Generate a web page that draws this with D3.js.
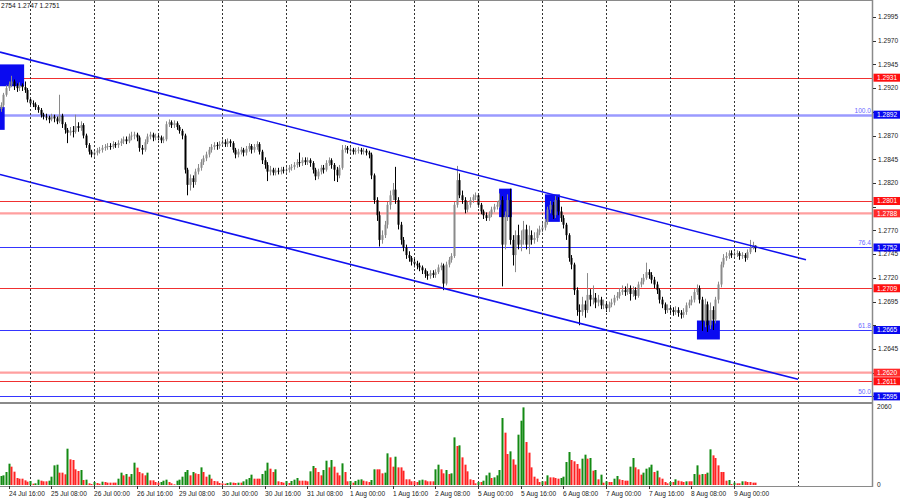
<!DOCTYPE html>
<html><head><meta charset="utf-8">
<script src="https://cdn.jsdelivr.net/npm/d3@7"></script>
<style>body{margin:0;background:#fff}svg{display:block}text{font-family:"Liberation Sans",Arial,sans-serif}</style>
</head><body><svg id="c" width="900" height="500"></svg>
<script>
// ---- DATA (H1 bars; bar index 0 = 25 Jul 00:00) ----
const firstBar = -11;
const opens = [
1.2898,1.2902,1.2913,1.2920,1.2924,1.2927,1.2922,1.2920,1.2923,1.2921,1.2918,
1.2908,1.2904,1.2903,1.2900,1.2897,1.2892,1.2890,1.2889,1.2887,1.2890,1.2888,1.2885,1.2891,1.2882,1.2876,1.2873,1.2875,1.2874,1.2880,1.2878,1.2881,1.2870,1.2860,1.2853,
1.2850,1.2852,1.2854,1.2855,1.2857,1.2858,1.2859,1.2858,1.2861,1.2860,1.2862,1.2864,1.2866,1.2864,1.2869,1.2870,1.2871,1.2868,1.2857,1.2855,1.2863,1.2869,1.2871,1.2868,
1.2869,1.2868,1.2865,1.2866,1.2882,1.2884,1.2881,1.2883,1.2879,1.2875,1.2870,1.2834,1.2818,1.2825,1.2821,1.2832,1.2836,1.2842,1.2846,1.2850,1.2855,1.2858,1.2860,1.2859,
1.2861,1.2863,1.2861,1.2864,1.2862,1.2855,1.2850,1.2853,1.2855,1.2852,1.2856,1.2859,1.2855,1.2858,1.2861,1.2853,1.2844,1.2839,1.2832,1.2834,1.2831,1.2833,1.2832,1.2834,
1.2833,1.2834,1.2836,1.2837,1.2839,1.2842,1.2841,1.2844,1.2842,1.2844,1.2841,1.2834,1.2827,1.2832,1.2836,1.2834,1.2841,1.2844,1.2839,1.2834,1.2828,1.2836,1.2855,1.2857,
1.2855,1.2855,1.2853,1.2854,1.2855,1.2853,1.2854,1.2852,1.2850,1.2828,1.2802,1.2786,1.2760,1.2765,1.2776,1.2797,1.2807,1.2813,1.2802,1.2776,1.2760,1.2752,1.2744,1.2741,
1.2737,1.2735,1.2733,1.2731,1.2728,1.2724,1.2722,1.2725,1.2723,1.2726,1.2731,1.2733,1.2714,1.2734,1.2739,1.2743,1.2797,1.2823,1.2807,1.2802,1.2792,1.2797,1.2802,1.2805,
1.2807,1.2797,1.2790,1.2786,1.2783,1.2787,1.2792,1.2795,1.2797,1.2802,1.2755,1.2786,1.2802,1.2760,1.2744,1.2765,1.2755,1.2760,1.2771,1.2755,1.2765,1.2760,1.2762,1.2768,
1.2771,1.2773,1.2779,1.2792,1.2797,1.2786,1.2802,1.2790,1.2783,1.2776,1.2765,1.2741,1.2734,1.2707,1.2686,1.2684,1.2692,1.2686,1.2702,1.2697,1.2699,1.2694,1.2697,1.2691,
1.2692,1.2688,1.2692,1.2694,1.2699,1.2701,1.2705,1.2707,1.2705,1.2709,1.2703,1.2707,1.2701,1.2713,1.2716,1.2720,1.2726,1.2723,1.2718,1.2713,1.2707,1.2697,1.2692,1.2686,
1.2688,1.2686,1.2684,1.2686,1.2683,1.2681,1.2684,1.2691,1.2694,1.2697,1.2705,1.2709,1.2697,1.2674,1.2692,1.2670,1.2686,1.2676,1.2697,1.2713,1.2734,1.2741,1.2743,1.2746,
1.2744,1.2745,1.2746,1.2743,1.2744,1.2741,1.2747,1.2752,1.2754];
const highs = [
1.2905,1.2915,1.2923,1.2927,1.2933,1.2929,1.2925,1.2926,1.2925,1.2927,1.2920,
1.2910,1.2907,1.2905,1.2902,1.2899,1.2894,1.2893,1.2891,1.2893,1.2892,1.2890,1.2913,1.2893,1.2884,1.2878,1.2879,1.2880,1.2892,1.2884,1.2885,1.2883,1.2872,1.2862,1.2855,
1.2855,1.2857,1.2858,1.2860,1.2861,1.2862,1.2862,1.2864,1.2863,1.2865,1.2867,1.2869,1.2869,1.2872,1.2874,1.2874,1.2873,1.2870,1.2860,1.2866,1.2872,1.2874,1.2873,1.2872,
1.2872,1.2870,1.2869,1.2885,1.2887,1.2886,1.2886,1.2885,1.2881,1.2877,1.2872,1.2836,1.2829,1.2828,1.2835,1.2840,1.2845,1.2849,1.2853,1.2858,1.2861,1.2863,1.2863,1.2864,
1.2866,1.2866,1.2867,1.2866,1.2864,1.2857,1.2856,1.2858,1.2857,1.2859,1.2862,1.2861,1.2861,1.2864,1.2863,1.2855,1.2847,1.2842,1.2838,1.2836,1.2836,1.2836,1.2837,1.2837,
1.2837,1.2839,1.2840,1.2842,1.2845,1.2852,1.2847,1.2847,1.2847,1.2846,1.2843,1.2836,1.2835,1.2839,1.2839,1.2844,1.2847,1.2846,1.2841,1.2837,1.2839,1.2860,1.2860,1.2859,
1.2858,1.2857,1.2857,1.2858,1.2857,1.2857,1.2856,1.2854,1.2852,1.2830,1.2805,1.2790,1.2770,1.2780,1.2800,1.2812,1.2820,1.2837,1.2805,1.2779,1.2763,1.2755,1.2748,1.2743,
1.2740,1.2738,1.2736,1.2733,1.2730,1.2727,1.2728,1.2728,1.2729,1.2734,1.2736,1.2735,1.2737,1.2742,1.2746,1.2800,1.2838,1.2830,1.2812,1.2805,1.2800,1.2805,1.2808,1.2810,
1.2809,1.2799,1.2792,1.2789,1.2790,1.2795,1.2798,1.2801,1.2809,1.2806,1.2790,1.2808,1.2814,1.2765,1.2770,1.2776,1.2770,1.2780,1.2776,1.2775,1.2770,1.2768,1.2772,1.2775,
1.2778,1.2782,1.2795,1.2801,1.2800,1.2807,1.2805,1.2795,1.2786,1.2778,1.2767,1.2744,1.2736,1.2710,1.2692,1.2700,1.2696,1.2725,1.2708,1.2712,1.2704,1.2702,1.2700,1.2697,
1.2695,1.2695,1.2698,1.2702,1.2705,1.2709,1.2712,1.2711,1.2714,1.2712,1.2711,1.2710,1.2716,1.2720,1.2724,1.2736,1.2729,1.2726,1.2721,1.2716,1.2709,1.2700,1.2694,1.2692,
1.2691,1.2689,1.2690,1.2689,1.2686,1.2688,1.2694,1.2697,1.2701,1.2708,1.2713,1.2712,1.2700,1.2698,1.2695,1.2694,1.2690,1.2700,1.2716,1.2737,1.2745,1.2747,1.2749,1.2749,
1.2748,1.2749,1.2748,1.2747,1.2746,1.2750,1.2760,1.2758,1.2754];
const lows = [
1.2895,1.2900,1.2911,1.2917,1.2921,1.2918,1.2916,1.2917,1.2917,1.2915,1.2905,
1.2901,1.2900,1.2897,1.2894,1.2889,1.2887,1.2886,1.2883,1.2885,1.2884,1.2882,1.2883,1.2878,1.2872,1.2862,1.2870,1.2868,1.2872,1.2874,1.2875,1.2867,1.2857,1.2850,1.2847,
1.2847,1.2849,1.2851,1.2852,1.2854,1.2855,1.2855,1.2856,1.2857,1.2857,1.2859,1.2861,1.2861,1.2862,1.2865,1.2866,1.2864,1.2853,1.2850,1.2853,1.2861,1.2866,1.2864,1.2865,
1.2865,1.2862,1.2862,1.2864,1.2879,1.2878,1.2878,1.2876,1.2872,1.2866,1.2830,1.2807,1.2812,1.2815,1.2818,1.2829,1.2833,1.2839,1.2843,1.2847,1.2852,1.2855,1.2855,1.2856,
1.2858,1.2858,1.2858,1.2858,1.2852,1.2846,1.2847,1.2850,1.2848,1.2849,1.2853,1.2851,1.2852,1.2855,1.2850,1.2840,1.2835,1.2822,1.2828,1.2828,1.2828,1.2829,1.2829,1.2830,
1.2830,1.2831,1.2833,1.2834,1.2836,1.2837,1.2838,1.2839,1.2839,1.2837,1.2830,1.2823,1.2824,1.2829,1.2830,1.2832,1.2838,1.2835,1.2822,1.2821,1.2825,1.2834,1.2852,1.2851,
1.2851,1.2850,1.2850,1.2851,1.2850,1.2850,1.2849,1.2846,1.2824,1.2798,1.2780,1.2753,1.2756,1.2762,1.2772,1.2792,1.2802,1.2798,1.2771,1.2755,1.2748,1.2740,1.2737,1.2733,
1.2731,1.2729,1.2727,1.2724,1.2720,1.2718,1.2719,1.2720,1.2720,1.2724,1.2728,1.2707,1.2712,1.2731,1.2736,1.2741,1.2794,1.2804,1.2798,1.2788,1.2789,1.2794,1.2799,1.2802,
1.2794,1.2787,1.2782,1.2780,1.2780,1.2784,1.2789,1.2792,1.2794,1.2711,1.2750,1.2780,1.2755,1.2733,1.2726,1.2750,1.2748,1.2755,1.2750,1.2745,1.2755,1.2756,1.2758,1.2765,
1.2768,1.2770,1.2776,1.2788,1.2782,1.2783,1.2786,1.2779,1.2772,1.2760,1.2737,1.2729,1.2702,1.2680,1.2670,1.2680,1.2678,1.2683,1.2690,1.2692,1.2688,1.2690,1.2687,1.2687,
1.2684,1.2684,1.2689,1.2691,1.2696,1.2698,1.2702,1.2701,1.2702,1.2696,1.2700,1.2697,1.2699,1.2710,1.2713,1.2718,1.2719,1.2714,1.2709,1.2703,1.2693,1.2688,1.2682,1.2683,
1.2682,1.2680,1.2681,1.2679,1.2677,1.2678,1.2681,1.2688,1.2691,1.2694,1.2702,1.2693,1.2664,1.2668,1.2663,1.2666,1.2665,1.2672,1.2693,1.2710,1.2731,1.2738,1.2740,1.2741,
1.2741,1.2742,1.2739,1.2740,1.2737,1.2739,1.2745,1.2750,1.2747];
const closes = [
1.2902,1.2913,1.2920,1.2924,1.2927,1.2922,1.2920,1.2923,1.2921,1.2918,1.2908,
1.2904,1.2903,1.2900,1.2897,1.2892,1.2890,1.2889,1.2887,1.2890,1.2888,1.2885,1.2891,1.2882,1.2876,1.2873,1.2875,1.2874,1.2880,1.2878,1.2881,1.2870,1.2860,1.2853,1.2850,
1.2852,1.2854,1.2855,1.2857,1.2858,1.2859,1.2858,1.2861,1.2860,1.2862,1.2864,1.2866,1.2864,1.2869,1.2870,1.2871,1.2868,1.2857,1.2855,1.2863,1.2869,1.2871,1.2868,1.2869,
1.2868,1.2865,1.2866,1.2882,1.2884,1.2881,1.2883,1.2879,1.2875,1.2870,1.2834,1.2818,1.2825,1.2821,1.2832,1.2836,1.2842,1.2846,1.2850,1.2855,1.2858,1.2860,1.2859,1.2861,
1.2863,1.2861,1.2864,1.2862,1.2855,1.2850,1.2853,1.2855,1.2852,1.2856,1.2859,1.2855,1.2858,1.2861,1.2853,1.2844,1.2839,1.2832,1.2834,1.2831,1.2833,1.2832,1.2834,1.2833,
1.2834,1.2836,1.2837,1.2839,1.2842,1.2841,1.2844,1.2842,1.2844,1.2841,1.2834,1.2827,1.2832,1.2836,1.2834,1.2841,1.2844,1.2839,1.2834,1.2828,1.2836,1.2855,1.2857,1.2855,
1.2855,1.2853,1.2854,1.2855,1.2853,1.2854,1.2852,1.2850,1.2828,1.2802,1.2786,1.2760,1.2765,1.2776,1.2797,1.2807,1.2813,1.2802,1.2776,1.2760,1.2752,1.2744,1.2741,1.2737,
1.2735,1.2733,1.2731,1.2728,1.2724,1.2722,1.2725,1.2723,1.2726,1.2731,1.2733,1.2714,1.2734,1.2739,1.2743,1.2797,1.2823,1.2807,1.2802,1.2792,1.2797,1.2802,1.2805,1.2807,
1.2797,1.2790,1.2786,1.2783,1.2787,1.2792,1.2795,1.2797,1.2802,1.2755,1.2786,1.2802,1.2760,1.2744,1.2765,1.2755,1.2760,1.2771,1.2755,1.2765,1.2760,1.2762,1.2768,1.2771,
1.2773,1.2779,1.2792,1.2797,1.2786,1.2802,1.2790,1.2783,1.2776,1.2765,1.2741,1.2734,1.2707,1.2686,1.2684,1.2692,1.2686,1.2702,1.2697,1.2699,1.2694,1.2697,1.2691,1.2692,
1.2688,1.2692,1.2694,1.2699,1.2701,1.2705,1.2707,1.2705,1.2709,1.2703,1.2707,1.2701,1.2713,1.2716,1.2720,1.2726,1.2723,1.2718,1.2713,1.2707,1.2697,1.2692,1.2686,1.2688,
1.2686,1.2684,1.2686,1.2683,1.2681,1.2684,1.2691,1.2694,1.2697,1.2705,1.2709,1.2697,1.2674,1.2692,1.2670,1.2686,1.2676,1.2697,1.2713,1.2734,1.2741,1.2743,1.2746,1.2744,
1.2745,1.2746,1.2743,1.2744,1.2741,1.2747,1.2752,1.2754,1.2751];
const volumes = [
238,255,343,563,484,352,185,167,167,123,88,
106,35,44,141,114,97,97,114,220,519,537,326,326,282,959,678,660,414,370,396,132,141,44,26,
79,53,35,88,79,62,62,62,62,167,326,255,290,220,290,590,458,343,308,255,326,123,123,79,
62,79,114,141,79,44,18,114,141,220,343,396,255,343,308,290,466,343,220,273,167,106,97,53,
44,35,53,70,62,53,62,62,97,150,185,273,167,167,167,290,378,590,431,343,414,97,79,62,
106,53,106,141,185,114,114,114,97,361,502,449,343,255,396,642,466,660,484,326,255,572,343,97,
106,62,106,141,150,114,97,79,132,414,414,414,308,326,836,730,484,748,466,466,378,150,150,97,
97,79,123,141,123,97,97,97,414,537,414,308,396,290,308,1258,1030,1047,730,537,361,150,132,44,
79,79,114,255,326,185,202,255,396,1769,1382,818,889,678,537,1329,1698,2050,1135,854,466,220,167,79,
97,97,255,202,202,185,167,185,220,607,871,660,625,554,431,695,801,695,713,378,396,150,273,62,
97,79,79,167,238,150,132,114,114,484,713,466,414,273,326,431,466,537,343,378,202,167,79,44,
79,79,150,114,97,79,97,97,97,290,519,273,290,290,326,942,783,713,519,343,343,114,132,26,
62,44,44,97,97,79,79,62,62];

const timeLabels = ["24 Jul 16:00","25 Jul 08:00","26 Jul 00:00","26 Jul 16:00","29 Jul 08:00","30 Jul 00:00","30 Jul 16:00","31 Jul 08:00","1 Aug 00:00","1 Aug 16:00","2 Aug 08:00","5 Aug 00:00","5 Aug 16:00","6 Aug 08:00","7 Aug 00:00","7 Aug 16:00","8 Aug 08:00","9 Aug 00:00"];
const timeLabelBars = [-8,8,24,40,56,72,88,104,120,136,152,168,184,200,216,232,248,264];
const dayStartBars = [0,24,48,72,96,120,144,168,192,216,240,264,288];
const priceTicks = [1.2995,1.2970,1.2945,1.2920,1.2895,1.2870,1.2845,1.2820,1.2795,1.2770,1.2745,1.2720,1.2695,1.2670,1.2645,1.2620,1.2595];
const volumeTicks = [2060, 0];
const redLevels = [1.2931,1.2801,1.2709,1.2611];
const pinkLevels = [1.2788,1.2620];
const fibLevels = [1.2892,1.2752,1.2665,1.2595];
const fibNames = ["100.0","76.4","61.8","50.0"];
const boxFromBar = [-11.25,-11.25,175.9,193.1,250.1];
const boxToBar = [-2.2,-9.5,180.7,198.7,258.7];
const boxTop = [1.2945,1.2900,1.2814,1.2808,1.2675];
const boxBottom = [1.2922,1.2876,1.2784,1.2779,1.2655];
const channelUpper = [[-11.25,1.2958],[291,1.2739]];
const channelLower = [[-11.25,1.2829],[288,1.2613]];
const headerText = "2754 1.2747 1.2751";

// ---- CHART ----
const svg = d3.select("#c");
const W = 872, mainBottom = 402;
const x = d3.scaleLinear().domain([-11.25, 315.75]).range([0, W]);
const y = d3.scaleLinear().domain([1.25891, 1.30129]).range([mainBottom, 0]);
const yv = d3.scaleLinear().domain([0, 2060]).range([485, 407]);
const fmt = d3.format(".4f");
const fs = 6.6;

svg.append("defs").append("clipPath").attr("id","mc").append("rect").attr("x",0).attr("y",0).attr("width",W).attr("height",mainBottom);
const main = svg.append("g").attr("clip-path","url(#mc)");

// vertical dotted grid
svg.append("g").selectAll("line").data(dayStartBars).join("line")
  .attr("x1",d=>Math.round(x(d))+0.5).attr("x2",d=>Math.round(x(d))+0.5)
  .attr("y1",1).attr("y2",486).attr("stroke","#333").attr("stroke-width",1).attr("stroke-dasharray","2,2");

// horizontal levels
main.selectAll(".pl").data(pinkLevels).join("line").attr("class","pl")
  .attr("x1",0).attr("x2",W).attr("y1",d=>y(d)).attr("y2",d=>y(d)).attr("stroke","#ff9f9f").attr("stroke-width",2.2);
main.selectAll(".rl").data(redLevels).join("line").attr("class","rl")
  .attr("x1",0).attr("x2",W).attr("y1",d=>Math.round(y(d))+0.5).attr("y2",d=>Math.round(y(d))+0.5).attr("stroke","#f03030").attr("stroke-width",1);
main.selectAll(".fl").data(fibLevels).join("line").attr("class","fl")
  .attr("x1",0).attr("x2",W).attr("y1",d=>Math.round(y(d))+0.5).attr("y2",d=>Math.round(y(d))+0.5)
  .attr("stroke",(d,i)=>i===0?"#9a9aff":"#3535ff").attr("stroke-width",(d,i)=>i===0?2.5:1.1);
main.selectAll(".fn").data(fibLevels).join("text").attr("class","fn")
  .attr("x",W-1).attr("y",d=>y(d)-2).attr("text-anchor","end").attr("font-size",fs).attr("fill","#6a6aff")
  .text((d,i)=>fibNames[i]);

// boxes
main.selectAll(".bx").data(boxTop).join("rect").attr("class","bx")
  .attr("x",(d,i)=>x(boxFromBar[i])).attr("width",(d,i)=>x(boxToBar[i])-x(boxFromBar[i]))
  .attr("y",d=>y(d)).attr("height",(d,i)=>y(boxBottom[i])-y(d)).attr("fill","#0a0af0");

// candles
const bars = closes.map((c,k)=>({i:firstBar+k,o:opens[k],h:highs[k],l:lows[k],c:c,v:volumes[k]}));
const cg = main.append("g");
bars.forEach(b=>{
  const up = b.c >= b.o;
  const col = up ? "#8a8a8a" : "#000";
  const cx = Math.round(x(b.i));
  cg.append("line").attr("x1",cx+0.5).attr("x2",cx+0.5).attr("y1",y(b.h)).attr("y2",y(b.l)).attr("stroke",col).attr("stroke-width",1);
  const t = y(Math.max(b.o,b.c)), bt = y(Math.min(b.o,b.c));
  cg.append("rect").attr("x",cx-0.5).attr("width",2).attr("y",t).attr("height",Math.max(1,bt-t)).attr("fill",col);
});

// channel lines
const ln = d3.line().x(d=>x(d[0])).y(d=>y(d[1]));
[channelUpper, channelLower].forEach(c=>{
  main.append("path").attr("d",ln(c)).attr("stroke","#1010f0").attr("stroke-width",1.6).attr("fill","none");
});

// volumes
svg.append("g").selectAll("rect").data(bars).join("rect")
  .attr("x",d=>Math.round(x(d.i))-0.5).attr("width",2)
  .attr("y",d=>yv(d.v)).attr("height",d=>yv(0)-yv(d.v))
  .attr("fill",(d,k)=> (k===0 || d.v > bars[k-1].v) ? "#138a13" : "#ff2222");

// frames
svg.append("line").attr("x1",0).attr("x2",W).attr("y1",0.5).attr("y2",0.5).attr("stroke","#8a8a8a");
svg.append("line").attr("x1",0).attr("x2",W+1).attr("y1",mainBottom+1).attr("y2",mainBottom+1).attr("stroke","#8a8a8a").attr("stroke-width",2);
svg.append("line").attr("x1",0).attr("x2",W).attr("y1",486.5).attr("y2",486.5).attr("stroke","#8a8a8a");
svg.append("line").attr("x1",W+0.5).attr("x2",W+0.5).attr("y1",0).attr("y2",487).attr("stroke","#8a8a8a").attr("stroke-width",1.5);

// price axis
const pa = svg.append("g");
const tagged = redLevels.concat(pinkLevels, fibLevels);
priceTicks.forEach(p=>{
  pa.append("line").attr("x1",W+1).attr("x2",W+4).attr("y1",Math.round(y(p))+0.5).attr("y2",Math.round(y(p))+0.5).attr("stroke","#333");
  const hidden = tagged.some(t=>Math.abs(y(t)-y(p))<6);
  if (!hidden) pa.append("text").attr("x",W+6).attr("y",y(p)).attr("dy","0.35em").attr("font-size",fs).attr("fill","#222").text(fmt(p));
});
function tag(p,bg){
  pa.append("rect").attr("x",W+1.5).attr("y",y(p)-4).attr("width",900-W-1.5).attr("height",8).attr("fill",bg);
  pa.append("text").attr("x",W+5).attr("y",y(p)).attr("dy","0.35em").attr("font-size",fs).attr("fill","#fff").text(fmt(p));
}
redLevels.forEach(p=>tag(p,"#ff1010"));
pinkLevels.forEach(p=>tag(p,"#ff2a2a"));
fibLevels.forEach(p=>tag(p,"#0808f0"));
volumeTicks.forEach(v=>{
  pa.append("text").attr("x",W+5).attr("y",yv(v)).attr("dy","0.35em").attr("font-size",fs).attr("fill","#222").text(v);
});

// time axis
const ta = svg.append("g");
timeLabelBars.forEach((b,k)=>{
  const tx = Math.round(x(b));
  ta.append("line").attr("x1",tx+0.5).attr("x2",tx+0.5).attr("y1",486).attr("y2",489).attr("stroke","#333");
  ta.append("text").attr("x",tx).attr("y",496).attr("font-size",fs).attr("fill","#222").text(timeLabels[k]);
});

// header
svg.append("text").attr("x",1).attr("y",8).attr("font-size",fs).attr("fill","#111").text(headerText);
</script></body></html>
